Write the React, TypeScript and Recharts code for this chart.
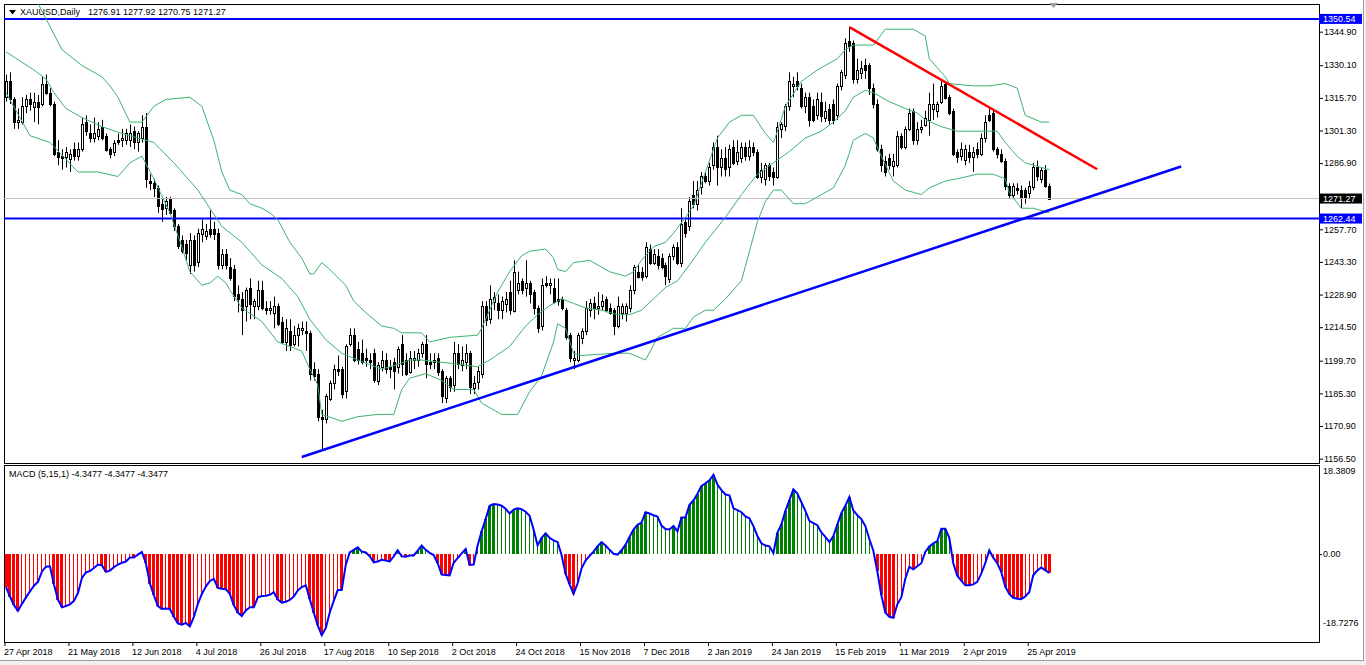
import React from 'react'
import { ComposedChart, Bar, Line, XAxis, YAxis, ReferenceLine } from 'recharts'

// XAUUSD daily candles, [open, high, low, close], 27 Apr 2018 -> 2 May 2019
const ohlcAprJun18 = [
  [1316, 1326, 1314, 1323], [1323, 1327, 1313, 1315], [1315, 1316, 1302, 1305], [1305, 1311, 1302, 1306],
  [1305, 1316, 1304, 1312], [1312, 1317, 1309, 1315], [1315, 1318, 1310, 1313], [1312, 1318, 1305, 1314],
  [1314, 1317, 1304, 1312], [1313, 1325, 1312, 1322], [1322, 1326, 1317, 1318], [1318, 1320, 1312, 1313],
  [1313, 1314, 1290, 1291], [1292, 1297, 1286, 1290], [1290, 1293, 1284, 1289], [1290, 1294, 1285, 1292],
  [1289, 1293, 1283, 1291], [1293, 1296, 1288, 1290], [1290, 1296, 1288, 1293], [1293, 1307, 1292, 1304],
  [1305, 1308, 1299, 1301], [1300, 1304, 1296, 1298], [1298, 1307, 1296, 1300], [1299, 1305, 1297, 1302],
  [1303, 1306, 1297, 1298], [1299, 1300, 1292, 1293], [1293, 1294, 1289, 1291], [1292, 1297, 1290, 1296],
  [1297, 1300, 1295, 1296], [1297, 1302, 1294, 1298], [1297, 1302, 1295, 1300], [1297, 1304, 1294, 1300],
  [1301, 1303, 1293, 1296], [1296, 1301, 1292, 1300], [1298, 1308, 1296, 1303], [1303, 1309, 1276, 1280],
  [1279, 1282, 1275, 1278], [1278, 1280, 1272, 1276], [1276, 1277, 1265, 1268], [1269, 1271, 1261, 1267],
  [1267, 1272, 1264, 1270], [1271, 1272, 1264, 1265], [1266, 1267, 1257, 1259], [1259, 1260, 1249, 1250],
  [1253, 1255, 1247, 1248], [1251, 1253, 1244, 1247], [1242, 1256, 1238, 1253],
]
const ohlcJulSep18 = [
  [1253, 1255, 1239, 1242], [1243, 1258, 1241, 1256], [1256, 1262, 1252, 1258], [1255, 1260, 1253, 1257],
  [1258, 1266, 1254, 1256], [1258, 1261, 1253, 1256], [1256, 1258, 1240, 1242], [1242, 1249, 1240, 1247],
  [1247, 1249, 1240, 1242], [1241, 1245, 1235, 1236], [1240, 1242, 1226, 1228], [1229, 1233, 1221, 1227],
  [1227, 1230, 1211, 1222], [1224, 1232, 1217, 1231], [1232, 1236, 1218, 1225], [1224, 1227, 1218, 1226],
  [1224, 1235, 1222, 1231], [1231, 1235, 1222, 1223], [1223, 1226, 1220, 1222], [1222, 1226, 1220, 1223],
  [1221, 1228, 1214, 1224], [1224, 1225, 1215, 1216], [1217, 1219, 1207, 1208], [1208, 1218, 1204, 1214],
  [1213, 1218, 1204, 1207], [1207, 1215, 1206, 1211], [1211, 1216, 1206, 1214], [1213, 1217, 1211, 1214],
  [1213, 1217, 1204, 1212], [1212, 1213, 1191, 1194], [1196, 1199, 1191, 1193], [1194, 1196, 1173, 1175],
  [1175, 1178, 1160, 1174], [1174, 1185, 1172, 1184], [1183, 1191, 1182, 1190], [1190, 1198, 1187, 1196],
  [1196, 1202, 1193, 1195], [1196, 1197, 1183, 1185], [1186, 1207, 1183, 1206], [1207, 1214, 1206, 1211],
  [1211, 1214, 1199, 1200], [1205, 1208, 1198, 1200], [1203, 1209, 1198, 1199], [1201, 1205, 1197, 1200],
  [1200, 1203, 1196, 1199], [1203, 1205, 1190, 1191], [1191, 1199, 1189, 1198], [1197, 1204, 1195, 1200],
  [1200, 1203, 1194, 1196], [1197, 1200, 1192, 1196], [1199, 1201, 1187, 1195], [1197, 1206, 1194, 1205],
  [1207, 1211, 1193, 1198], [1200, 1203, 1193, 1194], [1195, 1204, 1194, 1201], [1200, 1204, 1196, 1201],
  [1200, 1205, 1197, 1203], [1203, 1208, 1201, 1207], [1207, 1211, 1192, 1198], [1199, 1203, 1196, 1198],
  [1199, 1203, 1196, 1200], [1201, 1203, 1193, 1195], [1195, 1196, 1181, 1184], [1183, 1193, 1181, 1192],
]
const ohlcOctDec18 = [
  [1192, 1193, 1186, 1188], [1189, 1208, 1186, 1203], [1203, 1207, 1196, 1198], [1198, 1206, 1195, 1200],
  [1199, 1207, 1196, 1203], [1203, 1204, 1185, 1188], [1188, 1193, 1185, 1190], [1190, 1197, 1187, 1195],
  [1194, 1226, 1192, 1224], [1224, 1226, 1215, 1218], [1218, 1233, 1216, 1227], [1226, 1230, 1222, 1228],
  [1225, 1229, 1218, 1222], [1222, 1228, 1218, 1226], [1225, 1230, 1221, 1227], [1230, 1235, 1220, 1222],
  [1222, 1244, 1221, 1239], [1231, 1239, 1229, 1234], [1235, 1236, 1229, 1231], [1232, 1244, 1228, 1234],
  [1234, 1235, 1225, 1229], [1230, 1231, 1220, 1223], [1223, 1224, 1212, 1214], [1215, 1236, 1213, 1233],
  [1234, 1237, 1232, 1233], [1233, 1236, 1229, 1234], [1232, 1236, 1225, 1226], [1227, 1236, 1224, 1226],
  [1227, 1228, 1222, 1223], [1222, 1223, 1209, 1210], [1211, 1212, 1199, 1201], [1200, 1204, 1196, 1201],
  [1200, 1212, 1199, 1211], [1210, 1214, 1207, 1213], [1213, 1226, 1211, 1223], [1222, 1227, 1219, 1225],
  [1225, 1228, 1218, 1223], [1223, 1230, 1220, 1224], [1224, 1229, 1222, 1226], [1227, 1228, 1221, 1222],
  [1223, 1225, 1220, 1221], [1222, 1223, 1211, 1215], [1215, 1228, 1214, 1224], [1221, 1225, 1218, 1224],
  [1221, 1225, 1217, 1224], [1223, 1233, 1221, 1231], [1231, 1242, 1229, 1241], [1239, 1242, 1236, 1237],
  [1239, 1241, 1235, 1237], [1237, 1252, 1236, 1250], [1249, 1251, 1242, 1243], [1243, 1249, 1242, 1247],
  [1246, 1249, 1240, 1242], [1245, 1247, 1240, 1241], [1242, 1243, 1233, 1237], [1236, 1247, 1234, 1246],
  [1246, 1251, 1244, 1250], [1250, 1252, 1242, 1243], [1243, 1267, 1241, 1260], [1261, 1262, 1254, 1256],
  [1259, 1272, 1257, 1270], [1273, 1279, 1267, 1269], [1269, 1279, 1266, 1275], [1276, 1283, 1273, 1281],
  [1281, 1283, 1278, 1279],
]
const ohlcJanMar19 = [
  [1279, 1287, 1277, 1285], [1286, 1296, 1284, 1294], [1294, 1299, 1277, 1285], [1285, 1293, 1281, 1289],
  [1289, 1294, 1281, 1284], [1285, 1295, 1281, 1293], [1294, 1297, 1286, 1287], [1288, 1297, 1286, 1292],
  [1289, 1296, 1287, 1294], [1294, 1296, 1288, 1290], [1290, 1297, 1288, 1294], [1294, 1296, 1290, 1292],
  [1292, 1293, 1280, 1281], [1281, 1287, 1278, 1284], [1280, 1287, 1277, 1286], [1286, 1287, 1279, 1281],
  [1283, 1285, 1277, 1281], [1281, 1305, 1280, 1303], [1302, 1305, 1298, 1304], [1303, 1313, 1301, 1312],
  [1312, 1327, 1310, 1323], [1321, 1325, 1316, 1322], [1323, 1327, 1319, 1321], [1320, 1322, 1311, 1312],
  [1312, 1318, 1309, 1316], [1316, 1318, 1303, 1306], [1312, 1315, 1305, 1306], [1308, 1318, 1306, 1315],
  [1314, 1318, 1305, 1308], [1307, 1314, 1305, 1310], [1311, 1313, 1304, 1306], [1313, 1315, 1304, 1306],
  [1308, 1322, 1306, 1321], [1321, 1328, 1319, 1327], [1326, 1342, 1324, 1340], [1341, 1347, 1336, 1339],
  [1340, 1341, 1322, 1324], [1324, 1333, 1322, 1328], [1327, 1332, 1324, 1329], [1330, 1333, 1324, 1328],
  [1330, 1331, 1317, 1320], [1320, 1322, 1311, 1313], [1313, 1315, 1292, 1293], [1293, 1295, 1283, 1286],
  [1288, 1290, 1281, 1283], [1289, 1291, 1284, 1286], [1286, 1291, 1281, 1288], [1286, 1301, 1285, 1299],
  [1299, 1300, 1293, 1294], [1294, 1303, 1293, 1302], [1302, 1311, 1301, 1309], [1310, 1311, 1295, 1297],
  [1297, 1305, 1295, 1302], [1302, 1306, 1300, 1303], [1304, 1310, 1303, 1307], [1306, 1318, 1299, 1313],
  [1311, 1322, 1306, 1313], [1310, 1314, 1307, 1313], [1314, 1324, 1313, 1321], [1322, 1323, 1315, 1316],
  [1316, 1317, 1308, 1309], [1310, 1311, 1290, 1291], [1292, 1293, 1287, 1290],
]
const ohlcAprMay19 = [
  [1290, 1296, 1288, 1293], [1288, 1295, 1286, 1293], [1292, 1295, 1287, 1290], [1290, 1294, 1283, 1292],
  [1293, 1296, 1289, 1291], [1291, 1300, 1290, 1298], [1298, 1308, 1296, 1305], [1308, 1311, 1305, 1306],
  [1309, 1310, 1292, 1293], [1293, 1294, 1289, 1291], [1291, 1293, 1287, 1288], [1288, 1289, 1275, 1277],
  [1277, 1278, 1271, 1273], [1273, 1278, 1271, 1277], [1276, 1278, 1273, 1275], [1275, 1277, 1267, 1272],
  [1275, 1276, 1269, 1272], [1274, 1279, 1271, 1277], [1276, 1287, 1275, 1285], [1285, 1288, 1279, 1281],
  [1280, 1285, 1278, 1284], [1284, 1286, 1276, 1277], [1276.91, 1277.92, 1270.75, 1271.27],
]

// MACD (5,15,1) main line, one value per candle
const macdPart1 = [
  -7.6, -9.8, -11.8, -13.1, -11.5, -10.0, -8.6, -7.3, -6.4, -4.0,
  -2.9, -2.8, -7.0, -10.5, -12.3, -12.0, -11.6, -10.8, -9.0, -5.5,
  -4.2, -3.9, -3.2, -2.4, -2.6, -4.1, -3.8, -3.0, -2.4, -2.0,
  -1.7, -0.8, -0.8, -0.1, 0.5, -2.1, -6.8, -9.5, -12.0, -12.7,
  -12.6, -12.7, -14.5, -16.0, -16.3, -15.9, -16.7, -14.5, -11.5, -9.2,
  -7.5, -6.2,
]
const macdPart2 = [
  -5.7, -7.8, -8.0, -8.1, -9.2, -11.8, -13.5, -14.3,
  -13.0, -12.3, -12.3, -10.0, -9.7, -9.6, -9.4, -8.8, -10.5, -11.2,
  -11.0, -10.6, -9.8, -8.4, -7.6, -7.2, -10.4, -13.5, -16.5, -18.73,
  -17.1, -13.5, -10.8, -8.3, -8.3, -2.5, 0.4, 1.0, 1.6, 0.6,
  0.4, -0.5, -1.9, -1.7, -1.3, -1.5, -1.7, -0.5, 0.9, -0.5,
  -0.6, -0.3, -0.3, 0.8,
]
const macdPart3 = [
  2.0, 1.0, 0.3, -0.2, -2.1, -4.7,
  -4.8, -4.9, -2.0, -0.9, 0.2, 1.2, -2.5, -2.4, 2.0, 5.3,
  8.1, 11.2, 11.6, 11.5, 11.2, 10.5, 9.4, 10.3, 10.6, 10.4,
  9.8, 8.9, 5.7, 2.0, 3.8, 4.8, 3.8, 3.2, 2.8, -0.2,
  -4.5, -7.0, -9.2, -6.8, -3.3, -1.5, -0.4, 0.6, 1.8, 2.8,
  2.0, 1.0, 0.1, -0.1, 0.9, 2.2,
]
const macdPart4 = [
  4.0, 5.7, 6.8, 7.3,
  9.7, 9.4, 9.0, 8.7, 6.6, 5.8, 5.7, 6.5, 5.3, 8.5,
  8.5, 11.4, 12.4, 14.0, 15.8, 16.4, 17.1, 18.38, 16.1, 14.8,
  13.8, 13.6, 10.6, 10.2, 9.7, 8.7, 8.3, 6.5, 4.2, 2.5,
  2.0, 1.8, 0.2, 5.0, 6.9, 10.0, 12.5, 15.0, 14.0, 12.0,
  10.0, 7.7, 7.2, 6.7, 5.0, 4.0, 2.8, 4.2,
]
const macdPart5 = [
  6.9, 9.5,
  11.2, 13.2, 10.1, 9.0, 8.1, 6.5, 3.5, 0.8, -4.0, -9.5,
  -13.5, -14.5, -14.7, -11.6, -10.0, -5.7, -2.9, -3.5, -2.8, -2.1,
  0.5, 1.8, 2.5, 3.0, 5.9, 5.9, 3.8, -2.1, -5.0, -6.1,
  -7.2, -7.2, -7.0, -6.4, -4.5, -2.1, 0.9, -0.8, -2.1, -4.1,
  -7.5, -9.2, -10.1, -10.3, -10.4, -9.8, -8.8, -4.9, -3.8, -3.1,
  -3.7, -4.35,
]

// Bollinger-style envelope: [candle index, price]
const upperBand = [
  [0, 1378], [5, 1368], [9, 1354], [14, 1337], [19, 1330], [24, 1325], [26, 1321], [28, 1316], [31, 1305],
  [34, 1305], [37, 1312], [40, 1315], [46, 1316], [49, 1312], [52, 1297], [54, 1283], [56, 1275], [59, 1273],
  [61, 1269], [64, 1267], [66, 1265], [68, 1262], [71, 1252], [74, 1245], [76, 1238], [77, 1238], [79, 1243],
  [81, 1240], [85, 1233], [87, 1226], [90, 1221], [94, 1215], [97, 1214], [99, 1212], [104, 1212], [106, 1208],
  [111, 1210], [118, 1211], [119, 1214], [123, 1230], [126, 1239], [129, 1246], [131, 1248], [135, 1249],
  [137, 1245], [138, 1240], [140, 1239], [142, 1243], [146, 1244], [151, 1239], [155, 1237], [157, 1239],
  [159, 1244], [162, 1250], [165, 1252], [167, 1256], [170, 1263], [172, 1268], [175, 1283], [178, 1298],
  [181, 1305], [184, 1308], [187, 1308], [190, 1300], [192, 1296], [193, 1301], [195, 1312], [199, 1323],
  [203, 1328], [208, 1333], [210, 1337], [212, 1339], [217, 1339], [220, 1346], [224, 1346], [227, 1346],
  [230, 1343], [231, 1333], [235, 1325], [236, 1322], [242, 1321], [246, 1321], [250, 1322], [253, 1320],
  [255, 1308], [259, 1305], [261, 1305],
]
const middleBand = [
  [0, 1336], [7, 1328], [10, 1324], [12, 1318], [15, 1311], [19, 1307], [24, 1303], [29, 1300], [35, 1297],
  [37, 1296], [42, 1287], [48, 1275], [51, 1267], [54, 1259], [59, 1252], [64, 1242], [69, 1236], [73, 1228],
  [76, 1218], [80, 1209], [84, 1203], [88, 1200], [91, 1198], [94, 1196], [98, 1198], [101, 1200], [104, 1200],
  [109, 1199], [114, 1198], [118, 1197], [121, 1200], [126, 1206], [130, 1215], [133, 1220], [136, 1224],
  [139, 1227], [142, 1225], [145, 1223], [149, 1222], [153, 1220], [156, 1220], [159, 1222], [162, 1227],
  [165, 1232], [168, 1235], [171, 1242], [175, 1252], [180, 1263], [184, 1273], [188, 1282], [192, 1287],
  [196, 1292], [200, 1298], [204, 1301], [207, 1305], [210, 1310], [212, 1316], [215, 1319], [217, 1318],
  [221, 1314], [225, 1311], [228, 1309], [230, 1306], [234, 1303], [238, 1301], [242, 1301], [245, 1301],
  [248, 1301], [250, 1296], [253, 1290], [255, 1287], [259, 1285], [261, 1284],
]
const lowerBand = [
  [0, 1318], [6, 1299], [11, 1296], [18, 1283], [23, 1283], [28, 1281], [31, 1287], [34, 1290], [37, 1280],
  [41, 1265], [44, 1250], [46, 1239], [49, 1233], [51, 1234], [53, 1237], [55, 1234], [56, 1231], [59, 1223],
  [64, 1217], [68, 1208], [74, 1204], [76, 1196], [78, 1189], [79, 1176], [84, 1173], [88, 1175], [93, 1176],
  [97, 1176], [99, 1187], [101, 1192], [105, 1194], [109, 1191], [112, 1187], [117, 1187], [119, 1181],
  [124, 1176], [128, 1176], [131, 1186], [134, 1193], [137, 1208], [138, 1216], [140, 1214], [142, 1203],
  [144, 1202], [152, 1203], [156, 1203], [160, 1200], [163, 1210], [167, 1214], [170, 1214], [172, 1219],
  [175, 1222], [177, 1222], [180, 1227], [184, 1235], [186, 1248], [188, 1261], [190, 1270], [192, 1275],
  [194, 1275], [197, 1269], [200, 1269], [204, 1273], [207, 1276], [210, 1286], [212, 1297], [215, 1300],
  [217, 1298], [219, 1290], [222, 1279], [225, 1275], [229, 1273], [231, 1276], [235, 1279], [238, 1280],
  [243, 1282], [247, 1282], [250, 1280], [251, 1274], [254, 1267], [257, 1267], [261, 1265],
]

// hand-drawn trend lines: [candle index, price]
const supportTrend = [[74, 1157.2], [294, 1285.4]]
const resistanceTrend = [[211, 1346.9], [273, 1284.2]]

const blueLevels = [1350.54, 1262.44]
const lastClose = 1271.27
const priceTicks = [1344.9, 1330.1, 1315.7, 1301.3, 1286.9, 1257.7, 1243.3, 1228.9, 1214.5, 1199.7, 1185.3, 1170.9, 1156.5]
const macdTicks = [18.3809, 0, -18.7276]
const macdTickLabels = ['18.3809', '0.00', '-18.7276']
const DATE_STEP = 16
const dateLabels = [
  '27 Apr 2018', '21 May 2018', '12 Jun 2018', '4 Jul 2018', '26 Jul 2018', '17 Aug 2018', '10 Sep 2018',
  '2 Oct 2018', '24 Oct 2018', '15 Nov 2018', '7 Dec 2018', '2 Jan 2019', '24 Jan 2019', '15 Feb 2019',
  '11 Mar 2019', '2 Apr 2019', '25 Apr 2019',
]

const SLOTS = 329 // candles + empty space on the right (chart shift)
const FONT = "'Liberation Sans', Arial, sans-serif"

const ohlc = [...ohlcAprJun18, ...ohlcJulSep18, ...ohlcOctDec18, ...ohlcJanMar19, ...ohlcAprMay19]
const macd = [...macdPart1, ...macdPart2, ...macdPart3, ...macdPart4, ...macdPart5]
const toMap = (pts: number[][]) => new Map(pts.map(([i, v]) => [i, v]))
const upMap = toMap(upperBand)
const midMap = toMap(middleBand)
const lowMap = toMap(lowerBand)
const supMap = toMap(supportTrend)
const resMap = toMap(resistanceTrend)

const rows = Array.from({ length: SLOTS }, (_, i) => {
  const c = ohlc[i]
  const m = macd[i]
  const prev = macd[i - 1]
  return {
    i,
    range: c ? [c[2], c[1]] : null,
    open: c ? c[0] : undefined,
    high: c ? c[1] : undefined,
    low: c ? c[2] : undefined,
    close: c ? c[3] : undefined,
    macd: m,
    strong: m != null && (prev == null || Math.abs(m) >= Math.abs(prev)),
    upper: upMap.get(i),
    mid: midMap.get(i),
    lower: lowMap.get(i),
    support: supMap.get(i),
    resistance: resMap.get(i),
  }
})

const Candle = (props: any) => {
  const { x, y, width, height, payload } = props
  if (!payload || payload.open == null || !isFinite(y) || !isFinite(height)) return null
  const { open, close, high, low } = payload
  const cx = Math.round(x + width / 2) + 0.5
  const k = height / (high - low || 1)
  const yO = y + (high - open) * k
  const yC = y + (high - close) * k
  const top = Math.round(Math.min(yO, yC)) + 0.5
  const h = Math.max(Math.round(Math.abs(yO - yC)), 1)
  const bull = close > open
  return (
    <g>
      <line x1={cx} x2={cx} y1={y} y2={y + height} stroke="#000" strokeWidth={1} />
      <rect x={cx - 1} y={top} width={2} height={h} fill={bull ? '#fff' : '#000'} stroke="#000" strokeWidth={1} />
    </g>
  )
}

const MacdBar = (props: any) => {
  const { x, y, width, height, payload } = props
  if (!payload || payload.macd == null || !isFinite(y) || !isFinite(height)) return null
  const cx = x + width / 2
  const w = payload.strong ? 3 : 1
  const top = Math.min(y, y + height)
  return (
    <rect
      x={Math.round(cx - w / 2)}
      y={top}
      width={w}
      height={Math.abs(height)}
      fill={payload.macd < 0 ? '#ff0000' : '#008000'}
      shapeRendering="crispEdges"
    />
  )
}

const PriceTick = (props: any) => {
  const { x, y, payload } = props
  const v = payload.value
  const boxFill = v === lastClose ? '#000' : blueLevels.includes(v) ? '#0000ff' : null
  if (boxFill) {
    return (
      <g>
        <rect x={x} y={y - 5} width={43} height={10} fill={boxFill} />
        <text x={x + 4} y={y} dy="0.36em" fontSize={9} fontFamily={FONT} fill="#fff">
          {v.toFixed(2)}
        </text>
      </g>
    )
  }
  return (
    <g>
      <line x1={x} x2={x + 4} y1={y + 0.5} y2={y + 0.5} stroke="#000" />
      <text x={x + 5} y={y} dy="0.36em" fontSize={9} fontFamily={FONT} fill="#000">
        {v.toFixed(2)}
      </text>
    </g>
  )
}

const MacdTick = (props: any) => {
  const { x, y, payload } = props
  const idx = macdTicks.indexOf(payload.value)
  const shift = payload.value > 0 ? -4 : payload.value < 0 ? -12 : 0
  return (
    <g>
      {payload.value === 0 && <line x1={x} x2={x + 3} y1={y + 0.5} y2={y + 0.5} stroke="#000" />}
      <text x={x + 4} y={y + shift} dy="0.36em" fontSize={9} fontFamily={FONT} fill="#000">
        {macdTickLabels[idx]}
      </text>
    </g>
  )
}

const DateTick = (props: any) => {
  const { x, y, payload } = props
  const label = dateLabels[payload.value / DATE_STEP]
  if (!label) return null
  return (
    <g>
      <line x1={x - 1} x2={x - 1} y1={y} y2={y + 4} stroke="#000" />
      <text x={x - 2} y={y + 10} dy="0.36em" textAnchor="start" fontSize={9} fontFamily={FONT} fill="#000">
        {label}
      </text>
    </g>
  )
}

const bandLine = (key: string) => (
  <Line
    key={key}
    dataKey={key}
    type="linear"
    stroke="#3cb371"
    strokeWidth={1}
    dot={false}
    activeDot={false}
    connectNulls
    isAnimationActive={false}
  />
)

export default function App() {
  return (
    <div style={{ position: 'absolute', left: 0, top: 0, width: 1366, height: 665, background: '#f0f0f0', fontFamily: FONT, overflow: 'hidden' }}>
      <div style={{ position: 'absolute', left: 0, top: 0, width: 1363, height: 660, background: '#fff', borderRight: '1px solid #a0a0a0', borderBottom: '1px solid #a0a0a0' }} />
      {/* panel frames */}
      <div style={{ position: 'absolute', left: 4, top: 4, width: 1316, height: 460, border: '1px solid #000', boxSizing: 'border-box' }} />
      <div style={{ position: 'absolute', left: 4, top: 465, width: 1316, height: 178, border: '1px solid #000', boxSizing: 'border-box' }} />

      <div style={{ position: 'absolute', left: 0, top: 0 }}>
        <ComposedChart width={1366} height={466} data={rows} margin={{ top: 4, right: 0, bottom: 3, left: 4 }} barCategoryGap={0} barGap={0}>
          <XAxis dataKey="i" type="category" hide />
          <YAxis
            orientation="right"
            width={47}
            domain={[1154.57, 1357.12]}
            allowDataOverflow
            ticks={[...priceTicks, ...blueLevels, lastClose]}
            interval={0}
            tick={<PriceTick />}
            tickLine={false}
            axisLine={false}
            tickSize={0}
            tickMargin={0}
          />
          <ReferenceLine y={lastClose} stroke="#c0c0c0" strokeWidth={1} />
          <ReferenceLine y={blueLevels[0]} stroke="#0000ff" strokeWidth={2} />
          <ReferenceLine y={blueLevels[1]} stroke="#0000ff" strokeWidth={2} />
          {bandLine('upper')}
          {bandLine('mid')}
          {bandLine('lower')}
          <Bar dataKey="range" shape={(p: any) => <Candle {...p} />} isAnimationActive={false} />
          <Line dataKey="support" type="linear" stroke="#0000ff" strokeWidth={2.5} dot={false} activeDot={false} connectNulls isAnimationActive={false} />
          <Line dataKey="resistance" type="linear" stroke="#ff0000" strokeWidth={2.5} dot={false} activeDot={false} connectNulls isAnimationActive={false} />
        </ComposedChart>
      </div>

      <div style={{ position: 'absolute', left: 0, top: 466 }}>
        <ComposedChart width={1366} height={198} data={rows} margin={{ top: 0, right: 0, bottom: 0, left: 4 }} barCategoryGap={0} barGap={0}>
          <XAxis
            dataKey="i"
            type="category"
            interval={DATE_STEP - 1}
            height={22}
            tick={<DateTick />}
            tickLine={false}
            axisLine={false}
            tickSize={0}
            tickMargin={0}
          />
          <YAxis
            orientation="right"
            width={47}
            domain={[-20.32, 20.39]}
            allowDataOverflow
            ticks={macdTicks}
            interval={0}
            tick={<MacdTick />}
            tickLine={false}
            axisLine={false}
            tickSize={0}
            tickMargin={0}
          />
          <Bar dataKey="macd" shape={(p: any) => <MacdBar {...p} />} isAnimationActive={false} />
          <Line dataKey="macd" type="linear" stroke="#0000ff" strokeWidth={2} dot={false} activeDot={false} isAnimationActive={false} />
        </ComposedChart>
      </div>

      {/* window captions */}
      <svg style={{ position: 'absolute', left: 9, top: 10 }} width={7} height={5}>
        <polygon points="0,0 7,0 3.5,4.5" fill="#000" />
      </svg>
      <div style={{ position: 'absolute', left: 20, top: 7, fontSize: 9, lineHeight: '11px', color: '#000', whiteSpace: 'nowrap' }}>
        XAUUSD,Daily<span style={{ marginLeft: 8 }}>1276.91 1277.92 1270.75 1271.27</span>
      </div>
      <svg style={{ position: 'absolute', left: 1049, top: 3 }} width={9} height={6}>
        <polygon points="0,0 9,0 4.5,5" fill="#a0a0a0" />
      </svg>
      <div style={{ position: 'absolute', left: 9, top: 469, fontSize: 9, lineHeight: '11px', color: '#000', whiteSpace: 'nowrap' }}>
        MACD (5,15,1) -4.3477 -4.3477 -4.3477
      </div>
    </div>
  )
}
